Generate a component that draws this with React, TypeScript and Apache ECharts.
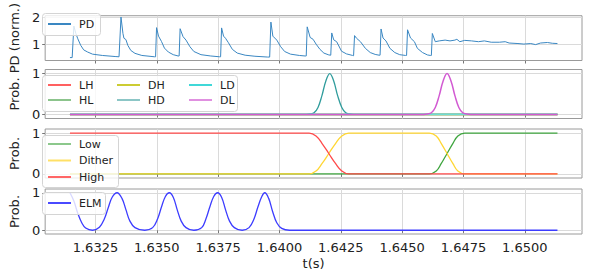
import React, { useEffect, useRef } from "react";
import * as echarts from "echarts";

// ---------- data ----------
const xTicks = [1.6325, 1.635, 1.6375, 1.64, 1.6425, 1.645, 1.6475, 1.65];
const pdTicks = [1, 2];
const probTicks = [0, 1];

const pdTime = [1.63146,1.63155,1.63158,1.63162,1.6317,1.63178,1.6319,1.63202,1.63218,1.63238,1.63278,1.6333,1.63346,1.63354,1.63362,1.63366,1.63374,1.63382,1.63394,1.63411,1.63439,1.63491,1.63495,1.63499,1.63507,1.63519,1.63531,1.63547,1.63567,1.63587,1.63591,1.63595,1.63607,1.63619,1.63635,1.63651,1.6368,1.6372,1.63756,1.6376,1.63764,1.63772,1.6378,1.63792,1.63808,1.63828,1.6386,1.639,1.63952,1.6396,1.63965,1.63973,1.63989,1.64005,1.64021,1.64045,1.64081,1.64105,1.64109,1.64113,1.64125,1.64137,1.64149,1.64165,1.64181,1.64201,1.64209,1.64213,1.64221,1.64233,1.64253,1.64273,1.64298,1.64302,1.64306,1.64314,1.6433,1.6435,1.6437,1.6439,1.64406,1.6441,1.64414,1.64422,1.64434,1.6445,1.6447,1.6449,1.64514,1.64518,1.64522,1.64534,1.6455,1.64562,1.64583,1.64603,1.64615,1.64619,1.64623,1.64635,1.64651,1.64675,1.64695,1.64715,1.64723,1.64735,1.64755,1.64783,1.64811,1.64835,1.64863,1.64896,1.6492,1.64936,1.64972,1.64996,1.65024,1.65044,1.65064,1.65092,1.65112,1.65133];
const pdValue = [0.49,0.49,1.0,1.68,1.4,1.2,0.95,0.78,0.7,0.62,0.57,0.53,0.52,2.02,1.4,1.22,1.17,0.95,0.76,0.65,0.57,0.52,0.52,1.62,1.3,1.1,0.85,0.7,0.6,0.55,0.55,1.58,1.28,1.15,0.9,0.72,0.6,0.55,0.52,0.52,1.61,1.3,1.22,1.05,0.8,0.66,0.58,0.54,0.51,0.51,1.83,1.3,1.15,0.9,0.72,0.62,0.57,0.55,0.55,1.65,1.25,1.18,1.0,0.8,0.66,0.59,0.58,1.42,1.16,1.09,0.73,0.63,0.57,0.56,1.32,1.22,1.09,0.84,0.68,0.61,0.58,0.58,1.57,1.23,1.12,0.84,0.68,0.6,0.57,0.57,1.54,1.23,1.09,0.84,0.68,0.59,0.57,0.57,1.4,1.09,1.12,1.15,1.12,1.15,1.18,1.09,1.14,1.12,1.09,1.12,1.07,1.07,1.09,1.04,1.02,1.0,1.02,0.98,1.04,1.06,1.03,1.02];

const flatTime = [1.63146, 1.65133];
const flatValue = [0, 0];

const hdTime = [1.63146,1.64109,1.64125,1.64141,1.64157,1.64173,1.64189,1.64205,1.64221,1.64237,1.64254,1.6427,1.64286,1.64302,1.65133];
const hdValue = [0,0,0.01,0.04,0.17,0.46,0.82,1.0,0.82,0.46,0.17,0.04,0.01,0,0];
const dlTime = [1.63146,1.64587,1.64603,1.64619,1.64635,1.64651,1.64667,1.64683,1.64699,1.64715,1.64731,1.64747,1.64763,1.64779,1.65133];
const dlValue = [0,0,0.01,0.04,0.17,0.46,0.82,1.0,0.82,0.46,0.17,0.04,0.01,0,0];

const highTime = [1.63146,1.64121,1.64149,1.64173,1.64201,1.64229,1.64254,1.64282,1.65133];
const highValue = [1,1,0.93,0.75,0.5,0.25,0.07,0,0];
const ditherTime = [1.63146,1.64121,1.64149,1.64173,1.64201,1.64229,1.64254,1.64282,1.64611,1.64639,1.64659,1.64683,1.64707,1.64727,1.64755,1.65133];
const ditherValue = [0,0,0.07,0.25,0.5,0.75,0.93,1,1,0.93,0.75,0.5,0.25,0.07,0,0];
const lowTime = [1.63146,1.64611,1.64639,1.64659,1.64683,1.64707,1.64727,1.64755,1.65133];
const lowValue = [0,0,0.07,0.25,0.5,0.75,0.93,1,1];

const elmTime = [1.63146,1.63162,1.63178,1.63194,1.6321,1.63238,1.63266,1.63286,1.63302,1.63318,1.63338,1.63358,1.63374,1.6339,1.63411,1.63451,1.63483,1.63503,1.63519,1.63535,1.63551,1.63567,1.63583,1.63599,1.63619,1.63651,1.63683,1.637,1.63716,1.63732,1.63748,1.63764,1.6378,1.63796,1.63816,1.63848,1.63876,1.63896,1.63912,1.63928,1.6394,1.63956,1.63972,1.63989,1.64009,1.64041,1.65133];
const elmValue = [1,0.78,0.45,0.2,0.06,0,0.08,0.3,0.6,0.88,1,0.85,0.55,0.25,0.07,0,0.07,0.3,0.62,0.9,1,0.88,0.55,0.25,0.07,0,0.07,0.3,0.62,0.9,1,0.88,0.55,0.25,0.07,0,0.07,0.3,0.62,0.9,1,0.85,0.5,0.2,0.05,0,0];

// ---------- styling ----------
const FONT = "DejaVu Sans";
const TXT = "#222";
const X_MIN = 1.63045;
const X_MAX = 1.65233;
const GRID_LEFT = 37;
const GRID_W = 545;
const grids = [
  { top: 10, height: 50.5 },
  { top: 69.5, height: 49 },
  { top: 129, height: 49 },
  { top: 189, height: 49.5 },
];

const zip = (t: number[], v: number[]) => t.map((x, i) => [x, v[i]]);

function App() {
  const ref = useRef<HTMLDivElement>(null);
  useEffect(() => {
    if (!ref.current) return;
    const chart = echarts.init(ref.current, null, { renderer: "svg" });

    const xAxes = grids.map((_, i) => ({
      type: "value",
      gridIndex: i,
      min: X_MIN,
      max: X_MAX,
      axisLine: { show: false },
      axisTick: { show: true, customValues: xTicks, length: 3, lineStyle: { color: "#777" } },
      axisLabel: {
        show: i === 3,
        customValues: xTicks,
        formatter: (v: number) => v.toFixed(4),
        fontSize: 13,
        color: TXT,
        fontFamily: FONT,
        margin: 7,
      },
      splitLine: { show: true, lineStyle: { color: "#dadada", width: 1 } },
      ...(i === 3
        ? {
            name: "t(s)",
            nameLocation: "middle",
            nameGap: 23,
            nameTextStyle: { fontSize: 13, color: TXT, fontFamily: FONT },
          }
        : {}),
    }));

    const yAxes = grids.map((_, i) => ({
      type: "value",
      gridIndex: i,
      min: i === 0 ? 0.38 : -0.1,
      max: i === 0 ? 2.07 : 1.1,
      axisLine: { show: false },
      axisTick: { show: true, customValues: i === 0 ? pdTicks : probTicks, length: 3, lineStyle: { color: "#777" } },
      axisLabel: {
        customValues: i === 0 ? pdTicks : probTicks,
        formatter: (v: number) => String(v),
        fontSize: 13,
        color: TXT,
        fontFamily: FONT,
        margin: 5,
      },
      splitLine: { show: true, lineStyle: { color: "#dadada", width: 1 } },
      name: i === 0 ? "PD (norm.)" : "Prob.",
      nameLocation: "middle",
      nameRotate: 90,
      nameGap: 17,
      nameTextStyle: { fontSize: 13, color: TXT, fontFamily: FONT },
    }));

    const mk = (name: string, gi: number, t: number[], v: number[], color: string, width = 1.3, smooth: number | boolean = false) => ({
      type: "line",
      name,
      xAxisIndex: gi,
      yAxisIndex: gi,
      data: zip(t, v),
      symbol: "none",
      smooth,
      lineStyle: { color, width },
      itemStyle: { color },
      silent: true,
    });

    const series = [
      mk("PD", 0, pdTime, pdValue, "#3a87c2", 1),
      mk("LH", 1, flatTime, flatValue, "#ff5c5c", 1.5),
      mk("HL", 1, flatTime, flatValue, "#8cc48c", 1.5),
      mk("DH", 1, flatTime, flatValue, "#cccc33", 1.5),
      mk("HD", 1, hdTime, hdValue, "#2f9c9c", 1.3, 0.4),
      mk("LD", 1, flatTime, flatValue, "#6fdcd4", 1.8),
      mk("DL", 1, dlTime, dlValue, "#d25ad2", 1.5, 0.4),
      mk("Low", 2, lowTime, lowValue, "#3fa53f", 1.3, 0.4),
      mk("Dither", 2, ditherTime, ditherValue, "#ffd633", 1.3, 0.4),
      mk("High", 2, highTime, highValue, "#ff4a4a", 1.3, 0.4),
      mk("ELM", 3, elmTime, elmValue, "#3c3cff", 1.3, 0.4),
    ];

    const legendBase = {
      orient: "vertical",
      padding: 0,
      itemWidth: 23,
      itemHeight: 10,
      selectedMode: false,
      z: 10,
      textStyle: { fontSize: 11, color: TXT, fontFamily: FONT, lineHeight: 13, padding: [0, 0, 0, 3] },
    };
    const li = (name: string, color: string) => ({
      name,
      itemStyle: { color, opacity: 0 },
      lineStyle: { color, width: 2 },
    });

    const legends = [
      { ...legendBase, left: 47, top: 17.5, data: [li("PD", "#3a87c2")] },
      { ...legendBase, left: 47, top: 78.5, itemGap: 2, data: [li("LH", "#ff6060"), li("HL", "#8cc48c")] },
      { ...legendBase, left: 116, top: 78.5, itemGap: 2, data: [li("DH", "#cccc33"), li("HD", "#8cc6c6")] },
      { ...legendBase, left: 188, top: 78.5, itemGap: 2, data: [li("LD", "#40d8d8"), li("DL", "#e090e0")] },
      { ...legendBase, left: 47, top: 137.5, itemGap: 3.5, data: [li("Low", "#8cc88c"), li("Dither", "#ffe066"), li("High", "#ff6666")] },
      { ...legendBase, left: 47, top: 196.5, data: [li("ELM", "#4a4aff")] },
    ];

    const box = (x: number, y: number, w: number, h: number) => ({
      type: "rect",
      z: 5,
      silent: true,
      shape: { x, y, width: w, height: h, r: 3 },
      style: { fill: "rgba(255,255,255,0.8)", stroke: "#d4d4d4", lineWidth: 1 },
    });

    chart.setOption({
      animation: false,
      backgroundColor: "#fff",
      textStyle: { fontFamily: FONT },
      grid: grids.map((g) => ({
        left: GRID_LEFT,
        width: GRID_W,
        top: g.top,
        height: g.height,
        show: true,
        borderColor: "#9a9a9a",
        borderWidth: 1,
        backgroundColor: "transparent",
      })),
      xAxis: xAxes,
      yAxis: yAxes,
      legend: legends,
      graphic: [
        box(42.5, 13.5, 58, 22),
        box(42.5, 75.5, 195, 36),
        box(42.5, 135.5, 76, 52),
        box(42.5, 192.5, 63, 22),
      ],
      series,
    });
    return () => chart.dispose();
  }, []);
  return <div ref={ref} style={{ position: "fixed", left: 0, top: 0, width: 601, height: 271 }} />;
}

export default App;
